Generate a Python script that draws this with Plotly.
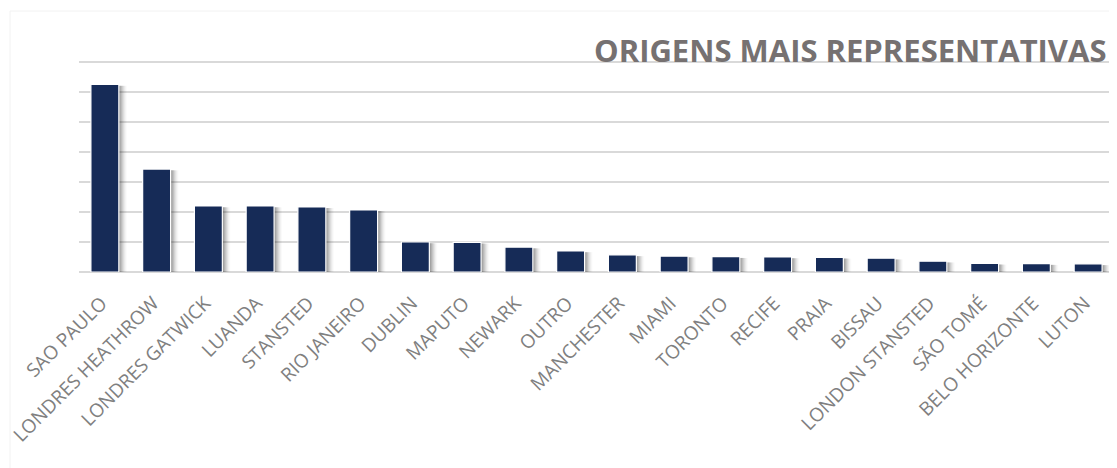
import plotly.graph_objects as go

categories = ["SAO PAULO", "LONDRES HEATHROW", "LONDRES GATWICK", "LUANDA", "STANSTED",
              "RIO JANEIRO", "DUBLIN", "MAPUTO", "NEWARK", "OUTRO", "MANCHESTER", "MIAMI",
              "TORONTO", "RECIFE", "PRAIA", "BISSAU", "LONDON STANSTED", "SÃO TOMÉ",
              "BELO HORIZONTE", "LUTON"]
values = [625, 343, 220, 220, 217, 207, 100, 99, 83, 70, 57, 53, 51, 50, 49, 46, 36, 29, 28, 27]
title_text = "ORIGENS MAIS REPRESENTATIVAS"

# page body has an 8px margin, so the figure is laid out 8px smaller
W, H = 1109, 460
ML, MR, MT, MB = 71, 3, 48, 196
PW, PH = W - ML - MR, H - MT - MB
BAR_W = 0.54
Y_MAX = 720


def px_x(x):
    return (x - ML) / PW


def px_y(y):
    return 1 - (y - MT) / PH


fig = go.Figure()

# soft drop shadow layers (drawn first, behind bars)
for k, alpha in [(1, 0.11), (2, 0.10), (3, 0.09), (4, 0.07), (5, 0.05), (6, 0.035), (7, 0.02)]:
    fig.add_trace(go.Bar(
        x=categories, y=[max(v - 4, 0) for v in values],
        width=BAR_W, offset=-BAR_W / 2 + 0.022 * k,
        marker=dict(color=f"rgba(0,0,0,{alpha})", line=dict(width=0)),
        hoverinfo="skip", showlegend=False,
    ))

fig.add_trace(go.Bar(
    x=categories, y=values,
    width=BAR_W, offset=-BAR_W / 2,
    marker=dict(color="#162B57", line=dict(color="white", width=1.2)),
    showlegend=False,
))

fig.update_layout(
    width=W, height=H,
    margin=dict(l=ML, r=MR, t=MT, b=MB, autoexpand=False),
    barmode="overlay",
    plot_bgcolor="white", paper_bgcolor="white",
    font=dict(family="Open Sans", color="#7f7f7f"),
    xaxis=dict(
        tickangle=-45, tickfont=dict(size=19, color="#808080", family="Open Sans"),
        tickmode="array", tickvals=categories,
        ticktext=[c + "\u00a0" for c in categories],
        ticklabelstandoff=12,
        showgrid=False, showline=False, ticks="", automargin=False,
    ),
    yaxis=dict(
        range=[0, Y_MAX], dtick=100, showticklabels=False,
        showgrid=True, gridcolor="#d9d9d9", gridwidth=1.5,
        zeroline=True, zerolinecolor="#d9d9d9", zerolinewidth=1.5,
        showline=False, ticks="", automargin=False,
    ),
    annotations=[dict(
        text=f"<b>{title_text}</b>", xref="paper", yref="paper",
        x=px_x(584), y=px_y(65.5),
        xanchor="left", yanchor="bottom", showarrow=False,
        font=dict(family="Open Sans", size=31, color="#767171"),
    )],
    shapes=[dict(
        type="rect", xref="paper", yref="paper",
        x0=px_x(2), x1=px_x(W + 5), y0=px_y(H + 5), y1=px_y(3),
        line=dict(color="#f2f2f2", width=1), layer="below",
    )],
)

fig.write_html("out.html")
